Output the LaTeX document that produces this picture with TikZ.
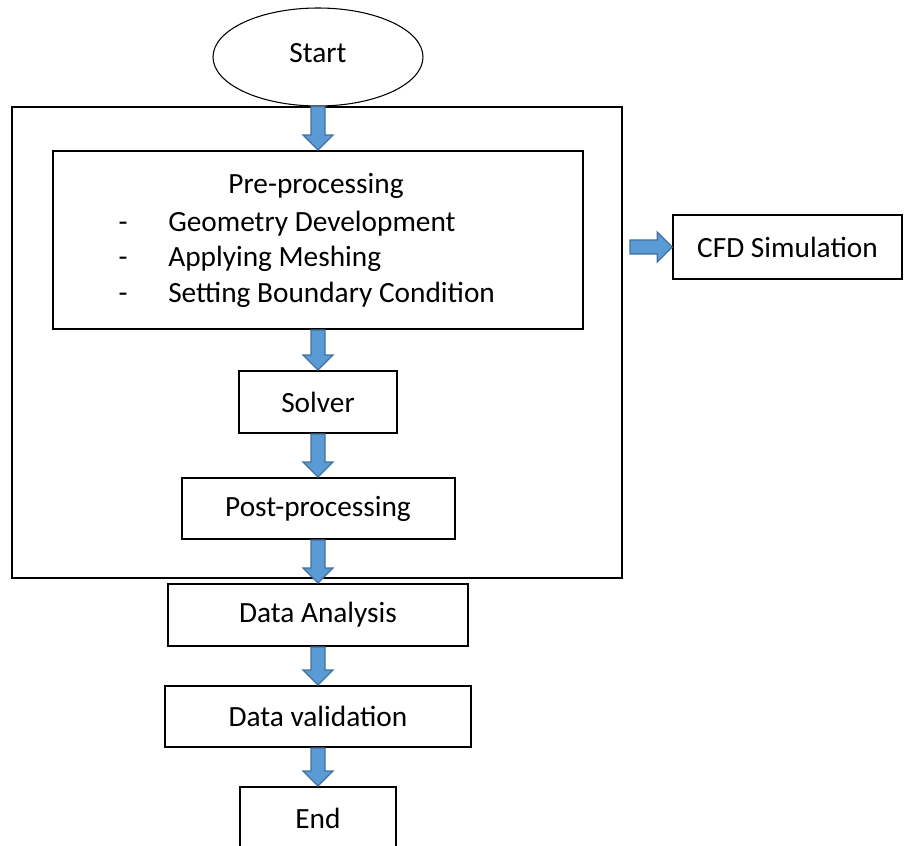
\documentclass[tikz,border=0pt]{standalone}
\usepackage{fontspec}
\setmainfont{Carlito}
\usetikzlibrary{calc,shapes.geometric}
\definecolor{arrowfill}{HTML}{5B9BD5}
\definecolor{arrowline}{HTML}{41719C}
\tikzset{
  txt/.style={inner sep=0pt, font=\fontsize{22}{26}\selectfont},
  flowbox/.style={draw=black, line width=1.5pt, inner sep=0pt, font=\fontsize{22}{26}\selectfont},
  frame/.style={draw=black, line width=0.8pt, inner sep=0pt},
  % block arrow: shaft half width 5.25pt, head half width 11.25pt, head length 11.25pt
  blockarrow/.style={draw=arrowline, fill=arrowfill, line width=0.9pt, line join=miter,
    to path={
      let \p1=(\tikztostart), \p2=(\tikztotarget),
          \n1={veclen(\x2-\x1,\y2-\y1)},
          \n2={(\x2-\x1)/\n1}, \n3={(\y2-\y1)/\n1},
          \p3=({\x2-11.25*\n2},{\y2-11.25*\n3})
      in
      ({\x1-5.25*\n3},{\y1+5.25*\n2})
      -- ({\x3-5.25*\n3},{\y3+5.25*\n2})
      -- ({\x3-11.25*\n3},{\y3+11.25*\n2})
      -- (\x2,\y2)
      -- ({\x3+11.25*\n3},{\y3-11.25*\n2})
      -- ({\x3+5.25*\n3},{\y3-5.25*\n2})
      -- ({\x1+5.25*\n3},{\y1-5.25*\n2})
      -- cycle}},
}
\begin{document}
\begin{tikzpicture}[x=0.75pt, y=-0.75pt]
  \useasboundingbox (0,0) rectangle (907,846);

  % enclosing frame of the CFD simulation stage
  \node[frame, minimum width=457.5pt, minimum height=353.25pt] (outer) at (317,342.5) {};

  % start terminal
  \node[ellipse, draw=black, line width=0.8pt, inner sep=0pt,
        minimum width=157.5pt, minimum height=73.5pt,
        font=\fontsize{22}{26}\selectfont] (start) at (318,57) {};
  \node[txt] (starttext) at (318,53) {Start};

  % pre-processing block with its three steps
  \node[flowbox, minimum width=397.5pt, minimum height=133.5pt] (pre) at (318,240) {};
  \node[txt] (pretitle) at (316,186) {Pre-processing};
  \node[txt, anchor=base] (dasha) at (123,231) {-};
  \node[txt, anchor=base west] (itema) at (168,231) {Geometry Development};
  \node[txt, anchor=base] (dashb) at (123,266) {-};
  \node[txt, anchor=base west] (itemb) at (168,266) {Applying Meshing};
  \node[txt, anchor=base] (dashc) at (123,302) {-};
  \node[txt, anchor=base west] (itemc) at (168,302) {Setting Boundary Condition};

  % remaining steps, all on the same vertical axis
  \node[flowbox, minimum width=118.5pt, minimum height=46.5pt] (solver) at (318,402) {Solver};
  \node[flowbox, minimum width=204.75pt, minimum height=45.75pt] (post) at (318,508.5) {Post-processing};
  \node[flowbox, minimum width=225pt, minimum height=46.5pt] (analysis) at (318,615) {Data Analysis};
  \node[flowbox, minimum width=229.5pt, minimum height=45.75pt] (valid) at (318,716.5) {Data validation};
  \node[flowbox, minimum width=117pt, minimum height=46.5pt] (end) at (318,818) {End};

  % label of the framed stage
  \node[draw=black, line width=1.2pt, inner sep=0pt, minimum width=171.75pt, minimum height=48pt,
        font=\fontsize{22}{26}\selectfont] (cfd) at (787.5,247) {CFD Simulation};
  \coordinate (cfdin) at (630,247);

  % block arrows
  \path[blockarrow] (start.south) to (pre.north);
  \path[blockarrow] (pre.south) to (solver.north);
  \path[blockarrow] (solver.south) to (post.north);
  \path[blockarrow] (post.south) to (analysis.north);
  \path[blockarrow] (analysis.south) to (valid.north);
  \path[blockarrow] (valid.south) to (end.north);
  \path[blockarrow] (cfdin) to (cfd.west);
\end{tikzpicture}
\end{document}
